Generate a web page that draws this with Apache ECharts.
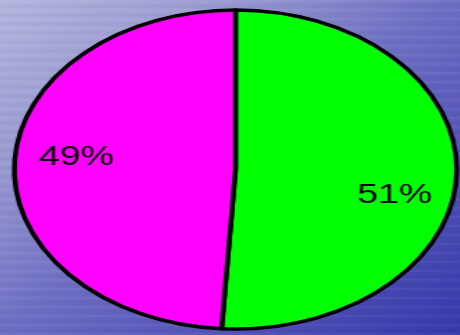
<!DOCTYPE html>
<html>
<head>
<meta charset="utf-8">
<script src="https://cdn.jsdelivr.net/npm/echarts@6/dist/echarts.min.js"></script>
<style>
html,body{margin:0;padding:0;width:460px;height:335px;overflow:hidden;}
body{
  background:
    repeating-linear-gradient(180deg, rgba(255,255,255,0.05) 0px, rgba(255,255,255,0.0) 3px, rgba(0,0,60,0.04) 6px, rgba(255,255,255,0.0) 9px),
    linear-gradient(to bottom right, #b6b6de 0%, #9a9ad2 25%, #6e6ec4 50%, #5252b8 75%, #3838ac 100%);
}
#chart{position:absolute;left:67.5px;top:0;width:335px;height:335px;transform:scaleX(1.387);transform-origin:167.5px 169.5px;}
</style>
</head>
<body>
<div id="chart"></div>
<script>
var categories = ['A', 'B'];
var values = [51, 49];
var sliceColors = ['#00ff00', '#ff00ff'];
var labelShift = [[32, 23], [-32, -9]];

var chart = echarts.init(document.getElementById('chart'), null, {renderer: 'canvas'});
chart.setOption({
  backgroundColor: 'transparent',
  animation: false,
  series: [{
    type: 'pie',
    center: [167.5, 169.5],
    radius: [0, 159.5],
    startAngle: 90,
    clockwise: true,
    avoidLabelOverlap: false,
    itemStyle: {borderColor: '#000', borderWidth: 3.5},
    label: {
      show: true,
      position: 'inside',
      formatter: '{d}%',
      color: '#000',
      fontFamily: 'Liberation Sans, Arial, sans-serif',
      fontSize: 27
    },
    labelLine: {show: false},
    labelLayout: function (p) {
      var s = labelShift[p.dataIndex];
      return {dx: s[0], dy: s[1]};
    },
    emphasis: {disabled: true},
    data: categories.map(function (c, i) {
      return {name: c, value: values[i], itemStyle: {color: sliceColors[i]}};
    })
  }]
});
</script>
</body>
</html>
